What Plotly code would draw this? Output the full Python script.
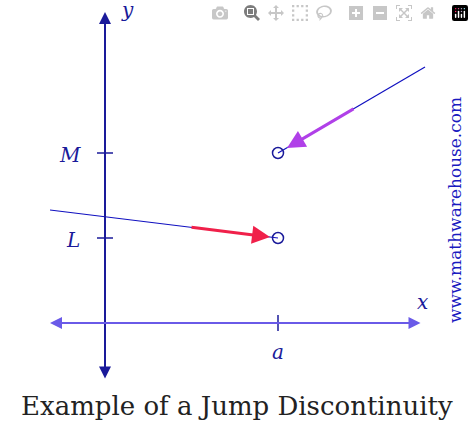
import plotly.graph_objects as go

# coordinates in picture units (x right, y down)
left_x = [50, 278]
left_y = [210, 238]
right_x = [278, 425]
right_y = [153, 67]
holes_x = [278, 278]
holes_y = [153, 238]
tick_labels = ["M", "L", "a", "x", "y"]

W, H = 474, 423
fig = go.Figure()
fig.add_trace(go.Scatter(x=left_x, y=left_y, mode="lines", line=dict(color="#1010c0", width=1.2)))
fig.add_trace(go.Scatter(x=right_x, y=right_y, mode="lines", line=dict(color="#1010c0", width=1.2)))
fig.add_trace(go.Scatter(x=[97, 113, None, 97, 113, None, 278, 278], y=[153, 153, None, 238, 238, None, 315, 331],
                         mode="lines", line=dict(color="#1a1a9a", width=1.5)))
fig.add_trace(go.Scatter(x=holes_x, y=holes_y, mode="markers",
                         marker=dict(symbol="circle-open", size=11, color="#1a1a9a", line=dict(width=1.5))))

def arrow(x0, y0, x1, y1, color, w, head=2, both=False):
    fig.add_annotation(x=x1, y=y1, ax=x0, ay=y0, xref="x", yref="y", axref="x", ayref="y",
                       showarrow=True, arrowhead=head, arrowsize=1.2, arrowwidth=w, arrowcolor=color,
                       arrowside="end+start" if both else "end", text="")

arrow(105, 380, 105, 12, "#1a1a9a", 2, both=True)
arrow(422, 323, 50, 323, "#6a5ae8", 2, both=True)
arrow(190, 227, 270, 237, "#f0204a", 3)
arrow(355, 108, 287, 148, "#b040e8", 3)

font = dict(family="DejaVu Serif", color="#1a1a9a", size=20)
for t, x, y in [("M", 70, 155), ("L", 73, 240), ("a", 278, 352), ("x", 422, 302), ("y", 127, 10)]:
    fig.add_annotation(x=x, y=y, text=f"<i>{t}</i>", showarrow=False, font=font)
fig.add_annotation(x=237, y=406, text="Example of a Jump Discontinuity", showarrow=False,
                   font=dict(family="DejaVu Serif", size=26, color="#222"))
fig.add_annotation(x=455, y=210, text="www.mathwarehouse.com", showarrow=False, textangle=-90,
                   font=dict(family="DejaVu Serif", size=17, color="#1a1ac0"))

fig.update_layout(width=W, height=H, margin=dict(l=0, r=0, t=0, b=0), showlegend=False,
                  plot_bgcolor="white", paper_bgcolor="white",
                  xaxis=dict(range=[0, W], visible=False),
                  yaxis=dict(range=[H, 0], visible=False))
fig.write_html("out.html")

with open("out.html", encoding="utf-8") as f:
    html = f.read()
html = html.replace("<head>", "<head><style>html,body{margin:0;padding:0;overflow:hidden}</style>", 1)
with open("out.html", "w", encoding="utf-8") as f:
    f.write(html)
